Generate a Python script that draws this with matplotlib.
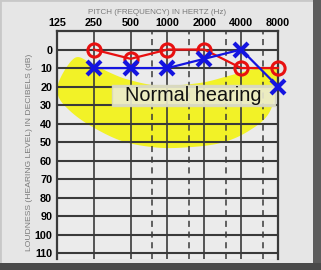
import numpy as np
import matplotlib.pyplot as plt
from matplotlib.patches import Rectangle, Polygon

freqs = [250, 500, 1000, 2000, 4000, 8000]
right_ear = [0, 5, 0, 0, 10, 10]
left_ear = [10, 10, 10, 5, 0, 20]
freq_ticks = [125, 250, 500, 1000, 2000, 4000, 8000]
half_octaves = [750, 1500, 3000, 6000]
db_ticks = list(range(0, 111, 10))

# outline of the yellow "normal hearing" zone (Hz, dB)
blob_freq = [132, 175, 233, 339, 493, 871, 1850, 3250, 5200, 7160, 8000,
             6920, 4720, 2690, 1260, 722, 409, 233, 159, 128]
blob_db = [16, 4.5, 7, 12.5, 16.5, 19.5, 18, 14, 10.5, 10.5, 13,
           33, 43.5, 50.5, 53, 52.5, 49, 41, 33, 25]


def smooth_closed(x, y, n=20):
    # Catmull-Rom through the outline points
    p = np.column_stack([x, y])
    out = []
    m = len(p)
    for i in range(m):
        p0, p1, p2, p3 = p[i - 1], p[i], p[(i + 1) % m], p[(i + 2) % m]
        for t in np.linspace(0, 1, n, endpoint=False):
            t2, t3 = t * t, t * t * t
            out.append(0.5 * ((2 * p1) + (-p0 + p2) * t
                              + (2 * p0 - 5 * p1 + 4 * p2 - p3) * t2
                              + (-p0 + 3 * p1 - 3 * p2 + p3) * t3))
    return np.array(out)


fig = plt.figure(figsize=(3.21, 2.70), dpi=100, facecolor='#e6e6e6')
fig.patches.append(Rectangle((0, 0), 1, 1, transform=fig.transFigure,
                             fill=False, ec='#c8c8c8', lw=2))
fig.patches.append(Rectangle((313 / 321, 0), 8 / 321, 1, transform=fig.transFigure,
                             fc='#5c5c5c', ec='none'))
fig.patches.append(Rectangle((0, 0), 1, 7 / 270, transform=fig.transFigure,
                             fc='#4a4a4a', ec='none'))

ax = fig.add_axes([57 / 321, 11 / 270, 221 / 321, 228 / 270])
ax.set_facecolor('#ebebeb')
ax.set_xscale('log', base=2)
ax.set_xlim(125, 8000)
ax.set_ylim(113, -10)

# yellow zone, drawn in log2 space and mapped back
lb = smooth_closed(np.log2(blob_freq), blob_db)
ax.add_patch(Polygon(np.column_stack([2 ** lb[:, 0], lb[:, 1]]),
                     fc='#f2f227', ec='none', zorder=0))

for d in db_ticks:
    ax.axhline(d, color='#3a3a3a', lw=1.5, zorder=1)
for f in freq_ticks[1:-1]:
    ax.axvline(f, color='#3a3a3a', lw=1.2, zorder=1)
for f in half_octaves:
    ax.axvline(f, color='#3a3a3a', lw=1.1, ls=(0, (4, 3)), zorder=1)

ax.add_patch(Rectangle((0.249, 0.671), 0.738, 0.092, transform=ax.transAxes,
                       fc='#ececd2', ec='#d8d8c0', alpha=0.9, zorder=2))
ax.text(0.618, 0.717, 'Normal hearing', ha='center', va='center',
        transform=ax.transAxes, fontsize=14.3, family='Liberation Sans',
        color='#111111', zorder=3)

ax.plot(freqs, right_ear, color='#e81010', lw=1.6, marker='o', ms=9.5,
        mfc='none', mec='#e81010', mew=2.2, zorder=4, clip_on=False)
ax.plot(freqs, left_ear, color='#1414e0', lw=1.6, marker='x', ms=10,
        mec='#1414e0', mew=3, zorder=5, clip_on=False)

for s in ['left', 'right', 'top']:
    ax.spines[s].set_color('#3a3a3a')
    ax.spines[s].set_linewidth(1.6)
ax.spines['bottom'].set_visible(False)

ax.xaxis.tick_top()
ax.set_xticks(freq_ticks)
ax.set_xticks([], minor=True)
ax.set_xticklabels([str(f) for f in freq_ticks], fontsize=7.8,
                   family='Liberation Sans', fontweight='bold')
ax.set_yticks(db_ticks)
ax.set_yticklabels([str(d) for d in db_ticks], fontsize=7.8,
                   family='Liberation Sans', fontweight='bold')
ax.tick_params(axis='y', length=0, pad=3.5)
ax.tick_params(axis='x', length=0, pad=2)

fig.text(157 / 321, 1 - 12 / 270, 'PITCH (FREQUENCY) IN HERTZ (Hz)',
         ha='center', va='center', fontsize=5.8, color='#7a7a7a',
         family='Liberation Sans')
fig.text(30 / 321, 1 - 152 / 270, 'LOUDNESS (HEARING LEVEL) IN DECIBELS (dB)',
         ha='center', va='center', rotation=90, fontsize=6.1,
         color='#7a7a7a', family='Liberation Sans')

plt.savefig('out.png', dpi=100, facecolor=fig.get_facecolor())
